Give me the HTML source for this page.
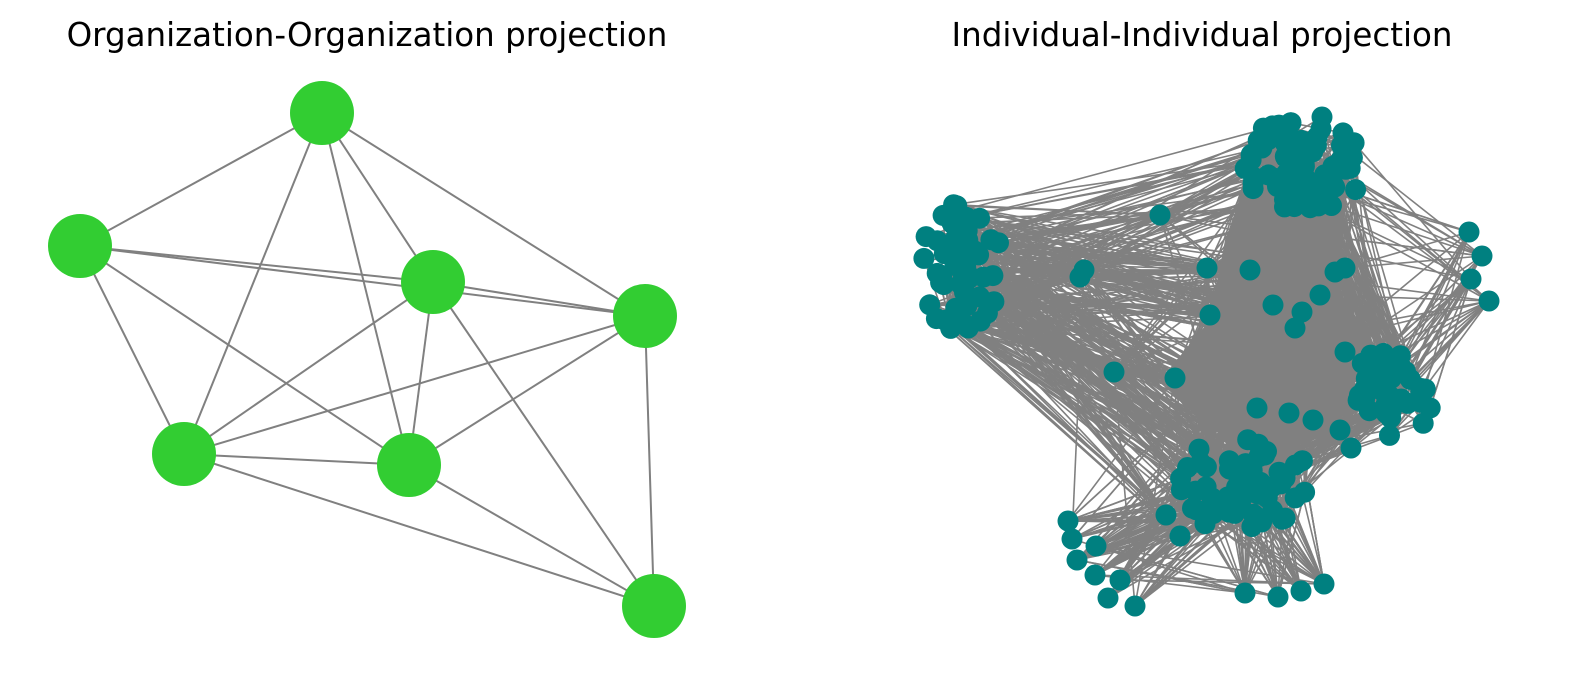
<!DOCTYPE html>
<html><head><meta charset="utf-8"><style>
html,body{margin:0;padding:0;background:#fff;width:1589px;height:686px;overflow:hidden}
svg{display:block}
text{font-family:"DejaVu Sans","Liberation Sans",sans-serif;font-size:32.5px;fill:#000}
</style></head><body>
<svg id="s" width="1589" height="686" viewBox="0 0 1589 686" xmlns="http://www.w3.org/2000/svg">
<text x="367" y="46" text-anchor="middle">Organization-Organization projection</text>
<text x="1202" y="46" text-anchor="middle">Individual-Individual projection</text>
<g stroke="#808080" stroke-width="2">
<line x1="322" y1="113" x2="80" y2="246"/><line x1="322" y1="113" x2="184" y2="454"/>
<line x1="322" y1="113" x2="409" y2="465"/><line x1="322" y1="113" x2="433" y2="282"/>
<line x1="322" y1="113" x2="645" y2="316"/><line x1="80" y1="246" x2="433" y2="282"/>
<line x1="80" y1="246" x2="645" y2="316"/><line x1="80" y1="246" x2="184" y2="454"/>
<line x1="80" y1="246" x2="409" y2="465"/><line x1="433" y1="282" x2="645" y2="316"/>
<line x1="433" y1="282" x2="184" y2="454"/><line x1="433" y1="282" x2="409" y2="465"/>
<line x1="433" y1="282" x2="654" y2="606"/><line x1="645" y1="316" x2="184" y2="454"/>
<line x1="645" y1="316" x2="409" y2="465"/><line x1="645" y1="316" x2="654" y2="606"/>
<line x1="184" y1="454" x2="409" y2="465"/><line x1="184" y1="454" x2="654" y2="606"/>
<line x1="409" y1="465" x2="654" y2="606"/>
</g>
<g fill="#32cd32">
<circle cx="322" cy="113" r="32"/><circle cx="80" cy="246" r="32"/><circle cx="433" cy="282" r="32"/>
<circle cx="645" cy="316" r="32"/><circle cx="184" cy="454" r="32"/><circle cx="409" cy="465" r="32"/>
<circle cx="654" cy="606" r="32"/>
</g>
<polygon fill="#808080" points="1250,170 1345,200 1340,300 1375,345 1330,430 1280,450 1210,430 1160,380 1210,320 1225,240"/>
<g id="edges" stroke="#808080" stroke-width="1.6" fill="none"></g>
<g id="nodes" fill="#008080"></g>
</svg>
<script>
(function(){
var seed=12345;function r(){seed=(seed*1103515245+12345)%2147483648;return seed/2147483648;}
var cl={},all=[];
function mk(name,cx,cy,rx,ry,n){var a=[];for(var i=0;i<n;i++){var ang=r()*6.2832,d=Math.pow(r(),0.7);a.push([cx+Math.cos(ang)*d*rx,cy+Math.sin(ang)*d*ry]);}cl[name]=a;all=all.concat(a);}
mk('T',1305,165,62,50,75);mk('L',962,268,42,65,55);mk('R',1390,395,42,48,38);mk('B',1245,485,68,50,60);
cl.BL=[[1068,521],[1072,539],[1096,546],[1077,560],[1095,575],[1120,580],[1108,598],[1135,606]];
cl.Bo=[[1245,593],[1278,597],[1301,591],[1324,584]];
cl.FR=[[1469,232],[1482,256],[1471,279],[1489,301]];
cl.S=[[1160,215],[1207,268],[1250,270],[1080,277],[1084,270],[1210,315],[1273,305],[1302,312],[1295,328],[1320,295],[1335,272],[1345,268],[1114,372],[1175,378],[1257,408],[1289,413],[1345,352],[1166,515],[1180,536],[1313,420],[1340,430],[1351,448]];
all=all.concat(cl.BL,cl.Bo,cl.FR,cl.S);
var E=document.getElementById('edges'),N=document.getElementById('nodes'),s='';
function pick(a){return a[Math.floor(r()*a.length)];}
function link(a,b,n){for(var i=0;i<n;i++){var p=pick(cl[a]),q=pick(cl[b]);s+='<line x1="'+p[0].toFixed(1)+'" y1="'+p[1].toFixed(1)+'" x2="'+q[0].toFixed(1)+'" y2="'+q[1].toFixed(1)+'"/>';}}
link('L','S',220);link('L','B',120);link('L','T',50);link('L','L',60);link('T','B',250);link('T','S',120);link('T','R',100);
link('R','B',100);link('R','S',60);link('R','FR',30);link('T','FR',15);link('S','FR',20);link('B','BL',100);link('S','BL',30);
link('B','Bo',90);link('BL','Bo',10);link('S','B',100);link('S','S',60);link('B','B',100);link('T','T',80);link('R','R',30);
E.innerHTML=s;
var t='';all.forEach(function(p){t+='<circle cx="'+p[0].toFixed(1)+'" cy="'+p[1].toFixed(1)+'" r="10.5"/>';});
N.innerHTML=t;
})();
</script>
</body></html>
